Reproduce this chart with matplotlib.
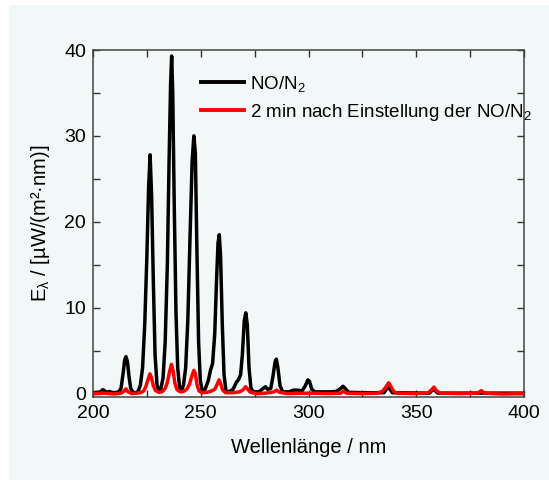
import matplotlib
matplotlib.use("Agg")
import matplotlib.pyplot as plt
from matplotlib.ticker import MultipleLocator
from matplotlib.patches import Rectangle

# Spektrum NO/N2
wl_black = [200, 202, 203.5, 204.5, 205.5, 206.5, 207.5, 208.5, 210, 212, 213, 214, 214.7, 215.3,
            216, 216.7, 217.5, 218.5, 220, 221, 222, 223, 224, 225, 225.8, 226.5, 227.2, 228,
            228.8, 229.7, 230.5, 231.5, 232.5, 233.5, 234.5, 235.3, 236, 236.5, 237, 237.7,
            238.5, 239.3, 240.2, 241, 242, 243, 244, 245, 246, 246.8, 247.5, 248.2, 249, 249.8,
            250.7, 252, 253.5, 254.5, 255.5, 256.5, 257.3, 258, 258.6, 259.2, 260, 260.8, 261.7,
            263, 265, 266.5, 267.5, 268.5, 269.3, 270.2, 270.9, 271.6, 272.4, 273.3, 274.5, 277,
            279, 280, 281, 282.5, 283.5, 284.5, 285.1, 285.8, 286.8, 288, 291, 293, 295, 297,
            298.5, 299.7, 300.5, 301.5, 303, 310, 313, 315, 316, 317, 318.5, 325, 335, 337, 339,
            356, 358, 360, 380, 400]
e_black = [0.1, 0.15, 0.2, 0.45, 0.3, 0.1, 0.25, 0.15, 0.1, 0.2, 0.6, 2.4, 3.9, 4.3,
           3.7, 2.0, 0.6, 0.15, 0.1, 0.3, 1.0, 3.0, 8.0, 16, 24, 27.8, 23, 13,
           4.5, 1.0, 0.3, 0.6, 1.8, 6, 15, 27, 36, 39.3, 35, 22,
           9.5, 3.0, 0.7, 0.3, 1.0, 3.0, 8.5, 18, 27, 30, 28, 17, 6, 1.5,
           0.3, 0.5, 1.5, 2.7, 3.5, 7, 13, 17.5, 18.5, 16, 8, 2.2, 0.3,
           0.2, 0.5, 1.3, 1.6, 2.2, 4.5, 8.5, 9.4, 8, 3, 0.6, 0.2, 0.2,
           0.6, 0.8, 0.5, 0.6, 2.0, 3.7, 4.0, 3.0, 0.9, 0.2, 0.2, 0.4, 0.4, 0.3,
           0.9, 1.6, 1.4, 0.5, 0.2, 0.2, 0.25, 0.6, 0.85, 0.6, 0.15, 0.1, 0.1, 0.8, 0.1,
           0.05, 0.5, 0.05, 0.05, 0.05]

# Spektrum 2 min nach Einstellung
wl_red = [200, 205, 210, 213, 214.5, 215.3, 216.2, 218, 220, 222, 223.5, 224.5, 225.5, 226.4,
          227.2, 228, 229, 230.5, 232, 233.5, 234.5, 235.5, 236.4, 237.2, 238, 239, 240.5,
          242, 243.5, 244.8, 245.8, 246.8, 247.5, 248.3, 249.2, 250.5, 253, 255, 256.5, 257.5,
          258.5, 259.3, 260.2, 261.5, 265, 268, 269.5, 270.8, 271.8, 273, 276, 280, 284, 285.2,
          286.5, 290, 300, 310, 315, 316.3, 317.5, 325, 332, 334.5, 336, 337.2, 338.3, 339.5,
          341, 350, 355.5, 357, 358.2, 359.3, 361, 370, 378.5, 380.2, 381.5, 390, 400]
e_red = [0.0, 0.05, -0.05, 0.05, 0.3, 0.55, 0.2, 0.0, 0.05, 0.1, 0.3, 0.8, 1.6, 2.3,
         1.8, 0.9, 0.35, 0.15, 0.2, 0.6, 1.3, 2.5, 3.4, 2.6, 1.2, 0.45, 0.2,
         0.25, 0.5, 1.1, 2.0, 2.7, 2.3, 1.0, 0.3, 0.1, 0.15, 0.3, 0.5, 1.0,
         1.6, 1.1, 0.4, 0.1, 0.1, 0.2, 0.4, 0.8, 0.5, 0.15, 0.0, 0.05, 0.2, 0.4,
         0.15, 0.0, 0.05, 0.0, 0.05, 0.3, 0.05, 0.0, 0.05, 0.3, 0.8, 1.25, 0.8, 0.25,
         0.05, 0.0, 0.1, 0.4, 0.75, 0.35, 0.05, 0.0, 0.05, 0.35, 0.05, -0.05, 0.0]

labels = [r'NO/N$_2$', r'2 min nach Einstellung der NO/N$_2$']

plt.rcParams['font.family'] = ['Liberation Sans', 'DejaVu Sans']
plt.rcParams['mathtext.fontset'] = 'custom'
plt.rcParams['mathtext.rm'] = 'Liberation Sans'
plt.rcParams['mathtext.it'] = 'Liberation Sans'
plt.rcParams['mathtext.default'] = 'regular'

bg = '#f2f8f8'
W, H = 549, 480
fig = plt.figure(figsize=(W / 100, H / 100), dpi=100)
bgrect = Rectangle((9 / W, 0), 1 - 9 / W, 1 - 5 / H, transform=fig.transFigure,
                   facecolor=bg, edgecolor='none', zorder=-10)
fig.add_artist(bgrect)

ax = fig.add_axes([93 / W, (H - 397) / H, (524 - 93) / W, (397 - 50) / H])
ax.set_facecolor(bg)

ax.plot(wl_black, e_black, color='black', lw=2.5, label=labels[0])
ax.plot(wl_red, e_red, color='#ff0000', lw=2.5, label=labels[1])

ax.set_xlim(200, 400)
ax.set_ylim(-0.4, 40)
ax.xaxis.set_major_locator(MultipleLocator(50))
ax.xaxis.set_minor_locator(MultipleLocator(25))
ax.yaxis.set_major_locator(MultipleLocator(10))
ax.yaxis.set_minor_locator(MultipleLocator(5))
ax.tick_params(which='both', direction='in', top=True, right=True, width=1.0, color='#333333')
ax.tick_params(which='major', length=5, labelsize=14)
ax.tick_params(which='minor', length=5)
ax.tick_params(axis='x', pad=6)
ax.tick_params(axis='y', pad=5)
for s in ax.spines.values():
    s.set_color('#444444')
    s.set_linewidth(1.1)

ax.set_xlabel('Wellenlänge / nm', fontsize=14.5, labelpad=11)
ax.set_ylabel(r'E$_{\lambda}$ / [µW/(m²·nm)]', fontsize=14.5, labelpad=9)

leg = ax.legend(loc='upper left', bbox_to_anchor=(201 / W, 1 - 74 / H),
                bbox_transform=fig.transFigure, frameon=False, fontsize=13.5,
                handlelength=2.3, handletextpad=0.3, labelspacing=0.42,
                borderpad=0, borderaxespad=0)
for line in leg.get_lines():
    line.set_linewidth(2.8)

fig.savefig('out.png', dpi=100, facecolor='white')
